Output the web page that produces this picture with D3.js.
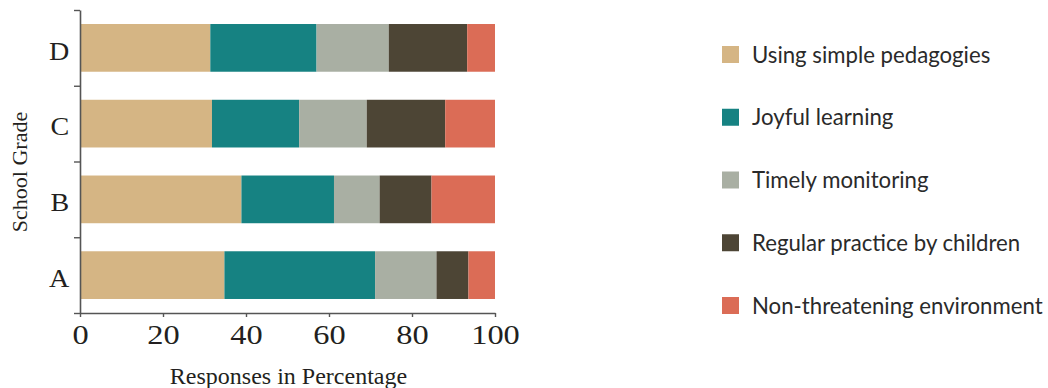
<!DOCTYPE html>
<html>
<head>
<meta charset="utf-8">
<script src="https://cdn.jsdelivr.net/npm/d3@7"></script>
<style>
  html, body { margin: 0; padding: 0; background: #ffffff; }
  svg { display: block; }
</style>
</head>
<body>
<svg id="chart" width="1048" height="388"></svg>
<script>
// ---- data ----
const categories = ["D", "C", "B", "A"];
const seriesNames = [
  "Using simple pedagogies",
  "Joyful learning",
  "Timely monitoring",
  "Regular practice by children",
  "Non-threatening environment"
];
const pedagogies  = [31.4, 31.8, 38.9, 34.8];
const joyful      = [25.6, 21.0, 22.3, 36.3];
const monitoring  = [17.4, 16.3, 11.0, 14.8];
const practice    = [18.9, 18.9, 12.5, 7.7];
const environment = [6.7, 12.0, 15.3, 6.4];
const xTicks = [0, 20, 40, 60, 80, 100];
const colors = ["#D5B584", "#168282", "#A9AFA3", "#4D4535", "#DB6C56"];
const xTitle = "Responses in Percentage";
const yTitle = "School Grade";

const seriesValues = [pedagogies, joyful, monitoring, practice, environment];
const rows = categories.map((c, i) => {
  const r = { cat: c };
  seriesNames.forEach((s, j) => { r[s] = seriesValues[j][i]; });
  return r;
});

const svg = d3.select("#chart");
const serif = "'Liberation Serif', 'Times New Roman', serif";
const axisColor = "#555555";
const textColor = "#231f20";

const x = d3.scaleLinear().domain([0, 100]).range([80, 495]);
const y = d3.scaleBand().domain(categories).range([10, 313]).paddingInner(0.37).paddingOuter(0.185);
const yEdge = d3.scaleLinear().domain([0, categories.length]).range([313, 10]);
const color = d3.scaleOrdinal().domain(seriesNames).range(colors);

const stacked = d3.stack().keys(seriesNames)(rows);

// bars
svg.append("g").selectAll("g")
  .data(stacked)
  .join("g")
  .attr("fill", d => color(d.key))
  .selectAll("rect")
  .data(d => d)
  .join("rect")
  .attr("x", d => x(d[0]))
  .attr("y", d => y(d.data.cat))
  .attr("width", d => x(d[1]) - x(d[0]))
  .attr("height", y.bandwidth());

// x axis
const gx = svg.append("g")
  .attr("transform", `translate(0,${yEdge(0)})`)
  .call(d3.axisBottom(x).tickValues(xTicks).tickSize(4).tickSizeOuter(0).tickPadding(8));
gx.select(".domain").attr("stroke", axisColor).attr("stroke-width", 1.4);
gx.selectAll(".tick line").attr("stroke", axisColor).attr("stroke-width", 1.4);
gx.selectAll(".tick text")
  .attr("fill", textColor)
  .attr("transform", "scale(1.2,1)")
  .style("font-family", serif)
  .style("font-size", "27px");

// y axis tick marks at band edges
const gyEdges = svg.append("g")
  .attr("transform", `translate(${x(0)},0)`)
  .call(d3.axisLeft(yEdge).ticks(categories.length).tickSize(6).tickSizeOuter(0).tickFormat(""));
gyEdges.select(".domain").attr("stroke", axisColor).attr("stroke-width", 1.6);
gyEdges.selectAll(".tick line").attr("stroke", axisColor).attr("stroke-width", 1.4);

// y category labels
const gy = svg.append("g")
  .attr("transform", `translate(${x(0)},0)`)
  .call(d3.axisLeft(y).tickSize(0).tickPadding(10));
gy.select(".domain").remove();
gy.selectAll(".tick text")
  .attr("fill", textColor)
  .attr("dy", "0.45em")
  .attr("transform", "scale(1.08,1)")
  .style("font-family", serif)
  .style("font-size", "26px");

// axis titles
svg.append("text")
  .attr("x", (x(0) + x(100)) / 2 + 1)
  .attr("y", 384)
  .attr("text-anchor", "middle")
  .attr("fill", textColor)
  .style("font-family", serif)
  .style("font-size", "24px")
  .text(xTitle);

svg.append("text")
  .attr("transform", "translate(27,172) rotate(-90)")
  .attr("text-anchor", "middle")
  .attr("fill", textColor)
  .style("font-family", serif)
  .style("font-size", "22px")
  .text(yTitle);

// legend
const ly = d3.scalePoint().domain(seriesNames).range([54.5, 305.5]);
const legend = svg.append("g").selectAll("g")
  .data(seriesNames)
  .join("g")
  .attr("transform", d => `translate(722,${ly(d)})`);
legend.append("rect")
  .attr("x", 0).attr("y", -8.5)
  .attr("width", 17).attr("height", 17)
  .attr("fill", d => color(d));
legend.append("text")
  .attr("x", 30).attr("y", 0).attr("dy", "0.36em")
  .attr("fill", "#2a2a2a")
  .style("font-family", "Lato, 'Open Sans', sans-serif")
  .style("font-size", "22.2px")
  .text(d => d);
</script>
</body>
</html>
